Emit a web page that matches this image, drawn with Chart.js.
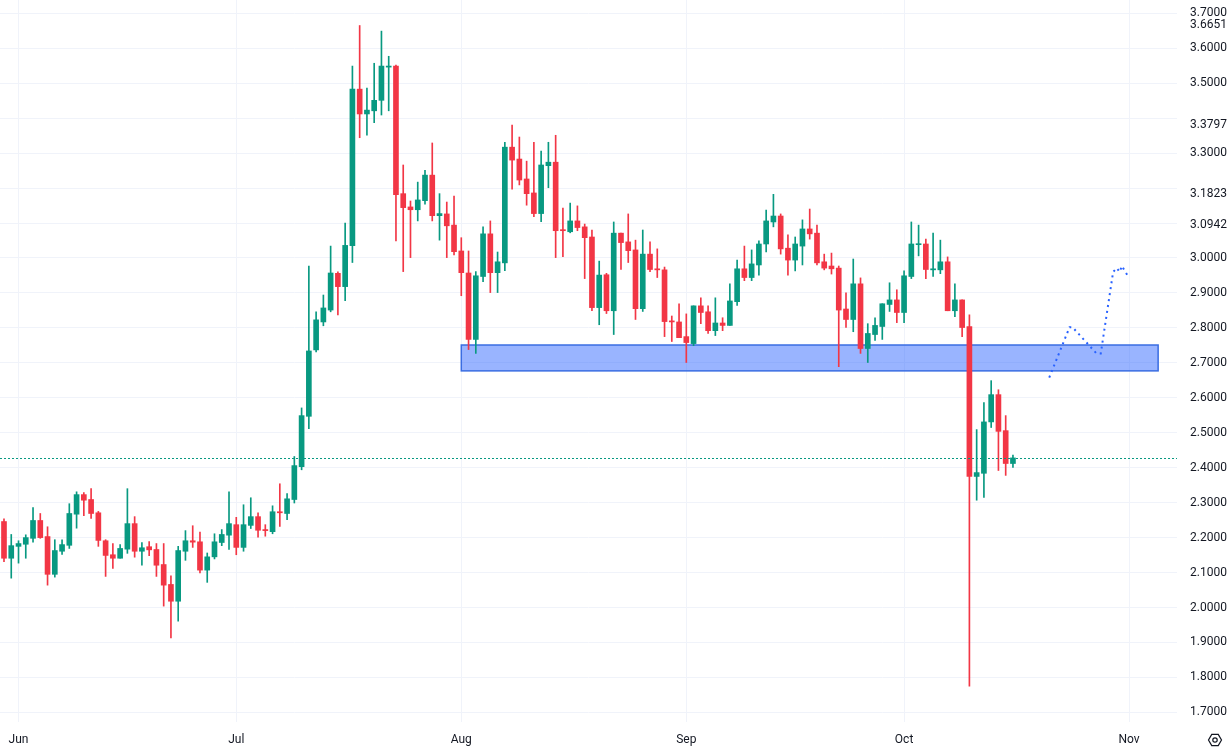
<!DOCTYPE html>
<html>
<head>
<meta charset="utf-8">
<script src="https://cdn.jsdelivr.net/npm/chart.js@4.4.1/dist/chart.umd.min.js"></script>
<style>
  html, body { margin: 0; padding: 0; background: #ffffff; }
  #wrap { width: 1229px; height: 753px; }
</style>
</head>
<body>
<div id="wrap"><canvas id="chart" width="1229" height="753"></canvas></div>
<script>
// daily candles, first one is 30 May; x value = days since 1 Jun
const firstDay = -2;
const open = [
  2.246, 2.141, 2.175, 2.181, 2.198, 2.249, 2.203, 2.095, 2.161, 2.178,
  2.267, 2.323, 2.309, 2.271, 2.191, 2.151, 2.141, 2.167, 2.240, 2.161,
  2.174, 2.166, 2.123, 2.066, 2.018, 2.161, 2.191, 2.188, 2.107, 2.145,
  2.186, 2.207, 2.237, 2.172, 2.235, 2.260, 2.223, 2.217, 2.274, 2.269,
  2.309, 2.403, 2.547, 2.737, 2.817, 2.851, 2.956, 2.918, 3.035, 3.483,
  3.412, 3.421, 3.451, 3.546, 3.549, 3.184, 3.146, 3.138, 3.164, 3.237,
  3.121, 3.126, 3.094, 3.020, 2.957, 2.767, 2.947, 3.069, 2.958, 2.986,
  3.317, 3.283, 3.226, 3.186, 3.127, 3.264, 3.274, 3.081, 3.075, 3.106,
  3.089, 3.060, 2.858, 2.952, 2.849, 3.071, 3.046, 3.023, 2.855, 3.011,
  2.969, 2.966, 2.820, 2.817, 2.775, 2.755, 2.863, 2.846, 2.792, 2.814,
  2.807, 2.875, 2.969, 2.944, 2.980, 3.040, 3.103, 3.120, 3.028, 2.994,
  3.034, 3.083, 3.071, 2.989, 2.977, 2.971, 2.854, 2.824, 2.926, 2.741,
  2.781, 2.804, 2.867, 2.880, 2.844, 2.947, 3.038, 3.040, 2.966, 2.966,
  2.989, 2.849, 2.880, 2.804, 2.375, 2.384, 2.531, 2.609, 2.506, 2.412
];
const high = [
  2.254, 2.209, 2.191, 2.208, 2.286, 2.269, 2.231, 2.194, 2.194, 2.297,
  2.331, 2.329, 2.340, 2.275, 2.194, 2.183, 2.180, 2.340, 2.260, 2.186,
  2.189, 2.183, 2.183, 2.091, 2.175, 2.220, 2.234, 2.216, 2.156, 2.211,
  2.223, 2.331, 2.258, 2.294, 2.314, 2.271, 2.237, 2.291, 2.354, 2.326,
  2.432, 2.571, 2.977, 2.846, 2.894, 3.034, 2.960, 3.100, 3.549, 3.665,
  3.486, 3.557, 3.649, 3.577, 3.552, 3.266, 3.163, 3.217, 3.251, 3.329,
  3.184, 3.160, 3.177, 3.058, 3.020, 2.961, 3.089, 3.106, 3.017, 3.331,
  3.380, 3.346, 3.277, 3.331, 3.306, 3.331, 3.351, 3.143, 3.157, 3.149,
  3.097, 3.080, 2.991, 2.956, 3.103, 3.071, 3.126, 3.051, 3.080, 3.046,
  3.026, 2.974, 2.834, 2.869, 2.840, 2.863, 2.886, 2.863, 2.886, 2.829,
  2.926, 2.994, 3.034, 3.023, 3.049, 3.137, 3.182, 3.126, 3.066, 3.060,
  3.109, 3.140, 3.094, 3.011, 3.014, 2.977, 2.900, 2.997, 2.943, 2.812,
  2.829, 2.869, 2.929, 2.909, 2.963, 3.103, 3.094, 3.054, 3.071, 3.051,
  3.003, 2.926, 2.880, 2.837, 2.509, 2.586, 2.649, 2.623, 2.549, 2.436
];
const low = [
  2.131, 2.084, 2.127, 2.141, 2.187, 2.198, 2.064, 2.087, 2.152, 2.169,
  2.227, 2.263, 2.255, 2.175, 2.089, 2.112, 2.141, 2.155, 2.144, 2.121,
  2.148, 2.089, 2.004, 1.913, 1.961, 2.135, 2.172, 2.099, 2.072, 2.139,
  2.177, 2.166, 2.151, 2.161, 2.226, 2.201, 2.204, 2.211, 2.232, 2.251,
  2.299, 2.394, 2.512, 2.731, 2.806, 2.846, 2.837, 2.878, 2.987, 3.344,
  3.351, 3.387, 3.409, 3.421, 3.049, 2.961, 3.001, 3.106, 3.154, 3.106,
  3.051, 3.001, 3.009, 2.892, 2.738, 2.727, 2.932, 2.901, 2.901, 2.964,
  3.197, 3.209, 3.151, 3.118, 3.104, 3.201, 3.001, 3.004, 3.072, 3.078,
  2.941, 2.849, 2.809, 2.841, 2.781, 2.967, 2.987, 2.824, 2.847, 2.961,
  2.944, 2.775, 2.761, 2.772, 2.701, 2.749, 2.812, 2.784, 2.778, 2.792,
  2.807, 2.864, 2.935, 2.935, 2.951, 3.017, 3.089, 3.011, 2.951, 2.963,
  2.980, 3.054, 2.980, 2.966, 2.954, 2.689, 2.801, 2.789, 2.727, 2.701,
  2.764, 2.767, 2.847, 2.815, 2.815, 2.941, 3.006, 2.941, 2.947, 2.955,
  2.849, 2.832, 2.775, 1.775, 2.307, 2.315, 2.515, 2.392, 2.378, 2.401
];
const close = [
  2.141, 2.177, 2.183, 2.200, 2.249, 2.200, 2.095, 2.163, 2.180, 2.269,
  2.323, 2.307, 2.269, 2.192, 2.149, 2.141, 2.169, 2.240, 2.161, 2.171,
  2.165, 2.121, 2.064, 2.018, 2.163, 2.191, 2.187, 2.107, 2.145, 2.188,
  2.209, 2.240, 2.172, 2.237, 2.260, 2.221, 2.220, 2.274, 2.271, 2.311,
  2.406, 2.549, 2.734, 2.823, 2.857, 2.957, 2.918, 3.036, 3.483, 3.412,
  3.423, 3.451, 3.549, 3.549, 3.181, 3.144, 3.138, 3.166, 3.237, 3.121,
  3.127, 3.092, 3.018, 2.958, 2.767, 2.949, 3.069, 2.958, 2.989, 3.317,
  3.280, 3.223, 3.184, 3.127, 3.266, 3.274, 3.078, 3.078, 3.106, 3.087,
  3.058, 2.858, 2.951, 2.849, 3.071, 3.044, 3.021, 2.855, 3.011, 2.967,
  2.966, 2.818, 2.817, 2.772, 2.758, 2.863, 2.844, 2.792, 2.814, 2.807,
  2.877, 2.969, 2.944, 2.983, 3.040, 3.106, 3.120, 3.026, 2.994, 3.040,
  3.083, 3.069, 2.986, 2.971, 2.969, 2.851, 2.824, 2.926, 2.741, 2.784,
  2.807, 2.869, 2.880, 2.844, 2.949, 3.040, 3.040, 2.967, 2.969, 2.989,
  2.849, 2.880, 2.801, 2.375, 2.386, 2.531, 2.609, 2.504, 2.412, 2.428
];

const monthStarts = [0, 30, 61, 92, 122, 153];
const monthLabels = ['Jun', 'Jul', 'Aug', 'Sep', 'Oct', 'Nov'];
const priceTicks = [1.7, 1.8, 1.9, 2.0, 2.1, 2.2, 2.3, 2.4, 2.5, 2.6, 2.7,
                    2.8, 2.9, 3.0, 3.1, 3.2, 3.3, 3.4, 3.5, 3.6, 3.7];
const markerTicks = [3.6651, 3.3797, 3.1823, 3.0942];
const coveredTicks = [3.1, 3.2, 3.4];

// drawn zone and projected path
const zoneDays = [61, 157];
const zonePrices = [2.677, 2.751];
const pathDays = [142.0, 144.8, 145.2, 148.5, 149.1, 150.8, 151.3, 151.7, 152.0, 153.0];
const pathPrices = [2.658, 2.802, 2.802, 2.727, 2.727, 2.960, 2.971, 2.960, 2.977, 2.943];

const UP = '#089981';
const DOWN = '#f23645';
const FONT = 'Roboto, "Liberation Sans", sans-serif';

const days = open.map((_, i) => firstDay + i);
const colors = open.map((o, i) => close[i] >= o ? UP : DOWN);

const overlay = {
  id: 'overlay',
  beforeDatasetsDraw(chart) {
    const { ctx, scales: { x, y } } = chart;
    const x0 = x.getPixelForValue(zoneDays[0]);
    const x1 = x.getPixelForValue(zoneDays[1]);
    const y0 = y.getPixelForValue(zonePrices[1]);
    const y1 = y.getPixelForValue(zonePrices[0]);
    ctx.save();
    ctx.fillStyle = 'rgba(41, 98, 255, 0.48)';
    ctx.fillRect(x0, y0, x1 - x0, y1 - y0);
    ctx.strokeStyle = '#3a6de2';
    ctx.lineWidth = 1.5;
    ctx.strokeRect(x0, y0, x1 - x0, y1 - y0);
    ctx.restore();
  },
  afterDatasetsDraw(chart) {
    const { ctx, chartArea: a, scales: { y } } = chart;
    const py = Math.round(y.getPixelForValue(close[close.length - 1])) + 0.5;
    ctx.save();
    ctx.strokeStyle = UP;
    ctx.lineWidth = 1;
    ctx.setLineDash([2, 2]);
    ctx.beginPath();
    ctx.moveTo(a.left, py);
    ctx.lineTo(a.right, py);
    ctx.stroke();
    ctx.restore();
  },
  afterDraw(chart) {
    // settings glyph in the corner
    const { ctx } = chart;
    const cx = 1215, cy = 740, r = 6.5;
    ctx.save();
    ctx.strokeStyle = '#131722';
    ctx.lineWidth = 1.2;
    ctx.beginPath();
    for (let k = 0; k < 6; k++) {
      const ang = Math.PI / 3 * k;
      const px = cx + r * Math.cos(ang), py = cy + r * Math.sin(ang);
      if (k === 0) ctx.moveTo(px, py); else ctx.lineTo(px, py);
    }
    ctx.closePath();
    ctx.stroke();
    ctx.beginPath();
    ctx.arc(cx, cy, 2.2, 0, Math.PI * 2);
    ctx.stroke();
    ctx.restore();
  }
};

new Chart(document.getElementById('chart'), {
  type: 'bar',
  data: {
    datasets: [
      {
        label: 'body',
        data: days.map((d, i) => ({ x: d, y: [open[i], close[i]] })),
        backgroundColor: colors,
        barThickness: 5,
        minBarLength: 1,
        grouped: false,
        borderWidth: 0,
        order: 1
      },
      {
        label: 'wick',
        data: days.map((d, i) => ({ x: d, y: [low[i], high[i]] })),
        backgroundColor: colors,
        barThickness: 1,
        grouped: false,
        borderWidth: 0,
        order: 2
      },
      {
        type: 'line',
        label: 'path',
        data: pathDays.map((d, i) => ({ x: d, y: pathPrices[i] })),
        borderColor: '#2962ff',
        borderWidth: 2,
        borderDash: [2, 4],
        pointRadius: 0,
        tension: 0,
        fill: false,
        order: 0
      }
    ]
  },
  options: {
    responsive: false,
    animation: false,
    devicePixelRatio: 1,
    layout: { padding: 0 },
    plugins: { legend: { display: false }, tooltip: { enabled: false } },
    scales: {
      x: {
        type: 'linear',
        min: -2.55,
        max: 159.6,
        offset: false,
        grid: { color: '#f0f3fa', drawTicks: false, offset: false },
        border: { display: false },
        afterBuildTicks: (s) => { s.ticks = monthStarts.map(v => ({ value: v })); },
        afterFit: (s) => { s.height = 31; s.paddingLeft = 0; s.paddingRight = 0; },
        ticks: {
          autoSkip: false,
          maxRotation: 0,
          padding: 11,
          color: '#131722',
          font: { family: FONT, size: 12 },
          callback: (v) => monthLabels[monthStarts.indexOf(v)]
        }
      },
      y: {
        type: 'linear',
        position: 'right',
        min: 1.6725,
        max: 3.738,
        grid: {
          drawTicks: false,
          color: (c) => (c.tick && markerTicks.includes(c.tick.value)) ? 'rgba(0,0,0,0)' : '#f0f3fa'
        },
        border: { display: false },
        afterBuildTicks: (s) => {
          s.ticks = priceTicks.concat(markerTicks).map(v => ({ value: v }));
        },
        afterFit: (s) => { s.width = 52; s.paddingTop = 0; s.paddingBottom = 0; },
        ticks: {
          autoSkip: false,
          padding: 13,
          color: '#131722',
          font: { family: FONT, size: 12 },
          callback: (v) => coveredTicks.includes(v) ? '' : v.toFixed(4)
        }
      }
    }
  },
  plugins: [overlay]
});
</script>
</body>
</html>
